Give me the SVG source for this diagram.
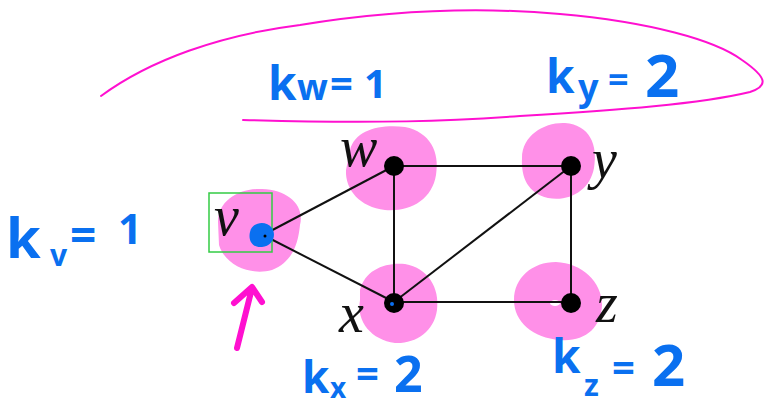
<svg xmlns="http://www.w3.org/2000/svg" width="767" height="408" viewBox="0 0 767 408">
<style>
.blob{fill:#ff90e8}
.edge{stroke:#111;stroke-width:2;fill:none}
.dot{fill:#000}
.lab{font-family:"Liberation Serif",serif;font-style:italic;font-size:56px;fill:#111}
.hw{font-family:"Noto Sans",sans-serif;font-weight:bold;fill:#0a70f0}
.ink{stroke:#ff10d0;fill:none;stroke-linecap:round;stroke-linejoin:round}
</style>
<rect width="767" height="408" fill="#fff"/>
<path class="ink" stroke-width="2" d="M101,96 C150,60 220,35 300,25 C380,12 470,6 560,14 C650,22 715,40 742,60 C768,78 768,86 750,92 C700,104 620,110 520,116 C450,121 380,124 243,120"/>
<g id="blobs">
<path class="blob" d="M350,150 C355,130 380,124 405,127 C430,132 440,152 436,175 C432,200 410,212 385,210 C360,207 345,190 346,170 Z"/>
<path class="blob" d="M522,158 C522,135 545,122 565,123 C590,125 598,145 594,168 C590,190 570,202 548,198 C528,193 521,178 522,158 Z"/>
<path class="blob" d="M218,222 C218,200 240,188 262,189 C288,190 305,205 300,225 C298,245 292,262 272,270 C250,276 225,265 219,245 Z"/>
<path class="blob" d="M360,290 C365,270 385,262 405,264 C428,268 440,288 437,310 C434,332 415,344 395,343 C372,340 356,322 360,300 Z"/>
<path class="blob" d="M514,300 C514,278 532,262 556,262 C582,263 602,282 602,305 C601,328 585,342 560,340 C533,338 514,322 514,300 Z"/>
<ellipse cx="555" cy="303" rx="5" ry="3" fill="#fff"/>
</g>
<g id="connectors">
<line class="edge" x1="263" y1="235" x2="394" y2="166"/>
<line class="edge" x1="263" y1="235" x2="394" y2="302"/>
<line class="edge" x1="394" y1="166" x2="394" y2="302"/>
<line class="edge" x1="394" y1="166" x2="571" y2="166"/>
<line class="edge" x1="394" y1="302" x2="571" y2="166"/>
<line class="edge" x1="394" y1="302" x2="571" y2="302"/>
<line class="edge" x1="571" y1="166" x2="571" y2="302"/>
</g>
<g id="node-w"><circle class="dot" cx="394" cy="166" r="10"/><text class="lab" x="340" y="166">w</text></g>
<g id="node-y"><circle class="dot" cx="571" cy="166" r="10"/><text class="lab" x="592" y="178">y</text></g>
<g id="node-x"><circle class="dot" cx="394" cy="303" r="10"/><circle cx="392" cy="304" r="2" fill="#0a70f0"/><text class="lab" x="339" y="332">x</text></g>
<g id="node-z"><circle class="dot" cx="571" cy="303" r="10"/><text class="lab" x="596" y="322">z</text></g>
<g id="node-v">
<rect x="209" y="193" width="63" height="59" fill="none" stroke="#33cc44" stroke-width="1.5"/>
<text class="lab" x="214" y="235">v</text>
<path d="M250,232 C252,222 266,220 272,228 C277,236 272,246 262,247 C252,248 248,240 250,232 Z" fill="#0a70f0"/>
<circle cx="265" cy="236" r="1.5" fill="#000"/>
</g>
<path class="ink" stroke-width="6" d="M237,348 L252,288 M234,303 L252,287 L262,302"/>
<text class="hw" font-size="46" x="268" y="100">k<tspan x="297" y="100" font-size="36">w</tspan><tspan x="330" y="98" font-size="40">=</tspan><tspan x="364" y="98" font-size="40">1</tspan></text>
<text class="hw" font-size="46" x="546" y="93">k<tspan x="578" y="100" font-size="36">y</tspan><tspan x="608" y="92" font-size="36">=</tspan><tspan x="645" y="97" font-size="60">2</tspan></text>
<text class="hw" font-size="56" x="6" y="258">k<tspan x="50" y="266" font-size="30">v</tspan><tspan x="70" y="252" font-size="46">=</tspan><tspan x="118" y="244" font-size="42">1</tspan></text>
<text class="hw" font-size="44" x="302" y="393">k<tspan x="330" y="398" font-size="28">x</tspan><tspan x="356" y="388" font-size="40">=</tspan><tspan x="394" y="392" font-size="50">2</tspan></text>
<text class="hw" font-size="46" x="552" y="373">k<tspan x="584" y="396" font-size="30">z</tspan><tspan x="612" y="382" font-size="40">=</tspan><tspan x="652" y="386" font-size="58">2</tspan></text>
</svg>
